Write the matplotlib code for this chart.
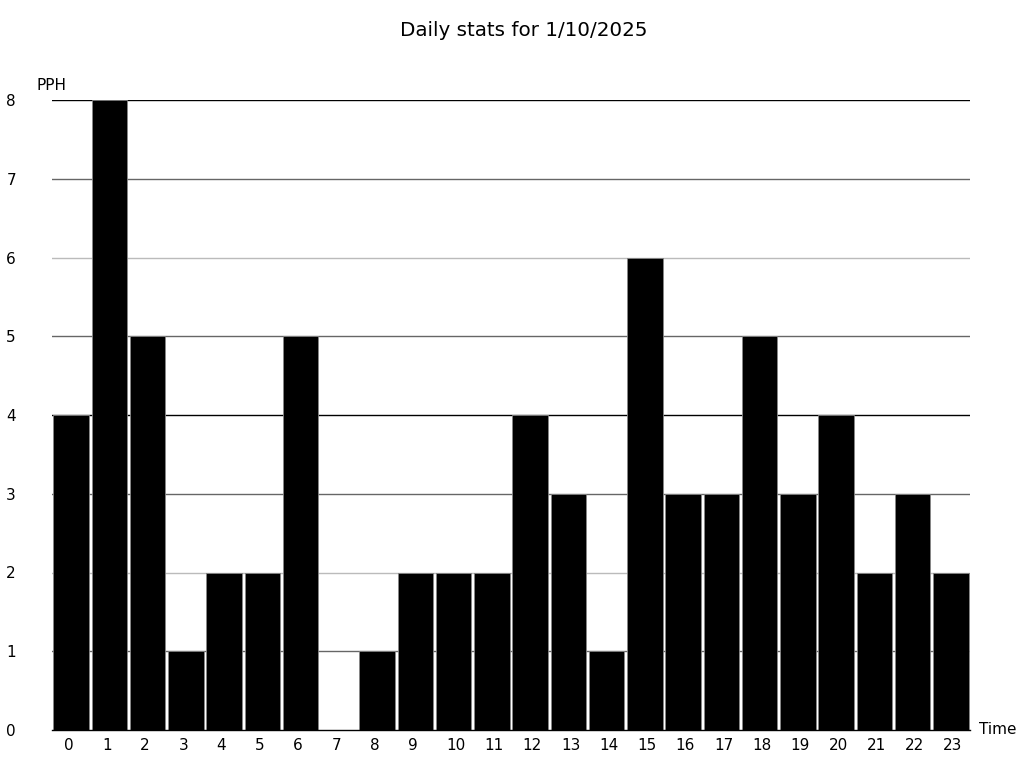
import numpy as np
import matplotlib.pyplot as plt
import matplotlib.transforms as mtransforms

# hourly values
hours = list(range(24))
pph = [4, 8, 5, 1, 2, 2, 5, 0, 1, 2, 2, 2, 4, 3, 1, 6, 3, 3, 5, 3, 4, 2, 3, 2]
grid_levels = [1, 2, 3, 4, 5, 6, 7, 8]
grid_colors = ['#666666', '#bbbbbb', '#666666', '#000000',
               '#666666', '#bbbbbb', '#666666', '#000000']

fig = plt.figure(figsize=(10.24, 7.68), dpi=100)
ax = fig.add_axes([52 / 1024, 38 / 768, 918 / 1024, 630 / 768])

for lvl, c in zip(grid_levels, grid_colors):
    ax.axhline(lvl, color=c, linewidth=1, zorder=1)

ax.bar(hours, pph, width=0.93, color='black', edgecolor='#888888',
       linewidth=0.6, zorder=2)

ax.set_xlim(-0.5, 23.5)
ax.set_ylim(0, 8)
ax.set_xticks(hours)
ax.set_yticks(range(9))
for s in ['top', 'right', 'left']:
    ax.spines[s].set_visible(False)
ax.spines['bottom'].set_color('black')
ax.spines['bottom'].set_linewidth(1)
ax.spines['bottom'].set_zorder(3)

ax.tick_params(axis='y', length=0, pad=26, labelsize=11)
ax.tick_params(axis='x', length=0, pad=6, labelsize=11)

# x labels sit left-aligned a bit left of the bar centre
shift = mtransforms.ScaledTranslation(-7.5 / 100, 0, fig.dpi_scale_trans)
for lab in ax.get_xticklabels():
    lab.set_horizontalalignment('left')
    lab.set_transform(lab.get_transform() + shift)

fig.text(52 / 1024, 1 - 85 / 768, 'PPH', fontsize=11, ha='center', va='center')
fig.text(998 / 1024, 1 - 730 / 768, 'Time', fontsize=11, ha='center', va='center')
fig.text(524 / 1024, 1 - 30 / 768, 'Daily stats for 1/10/2025', fontsize=14.3,
         ha='center', va='center')

fig.savefig('out.png', dpi=100)
